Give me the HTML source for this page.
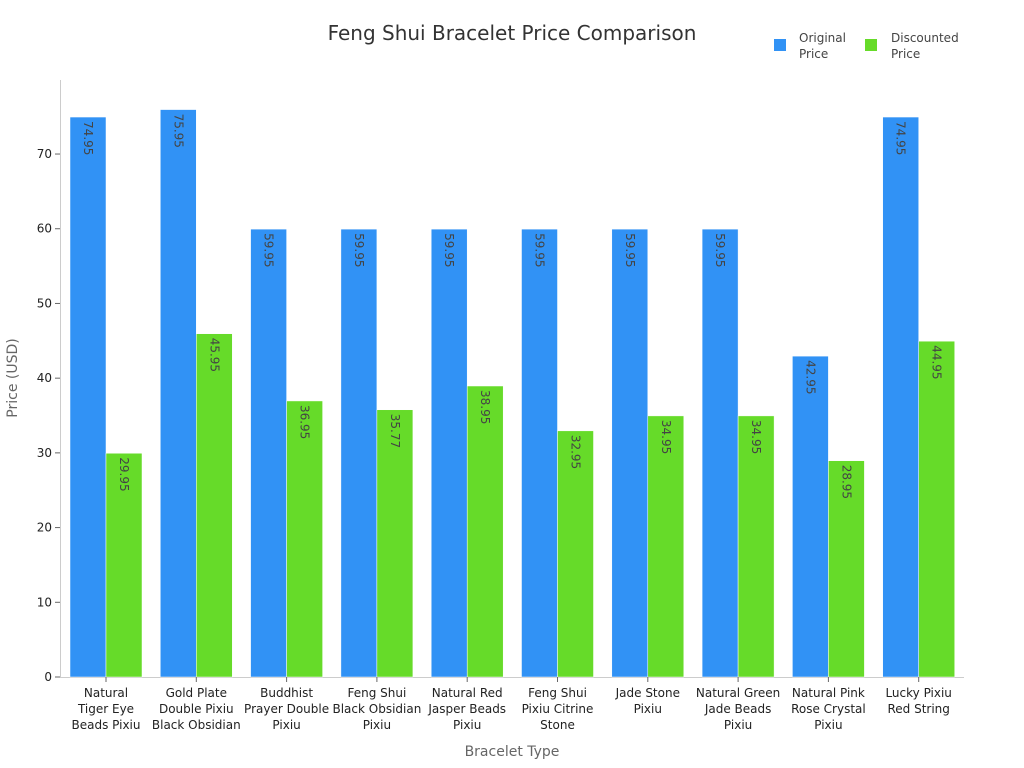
<!DOCTYPE html>
<html><head><meta charset="utf-8"><style>body{margin:0;background:#fff}svg{display:block;font-family:"DejaVu Sans","Liberation Sans",sans-serif}</style></head>
<body>
<svg id="c" width="1024" height="768" xmlns="http://www.w3.org/2000/svg">
<rect width="1024" height="768" fill="#fff"/>
<text x="512" y="40" text-anchor="middle" font-size="20" fill="#333">Feng Shui Bracelet Price Comparison</text>
<rect x="774" y="39" width="12" height="12" fill="#3192f5"/>
<text x="799" y="42" font-size="12" fill="#444">Original</text>
<text x="799" y="58" font-size="12" fill="#444">Price</text>
<rect x="865" y="39" width="12" height="12" fill="#66db29"/>
<text x="891" y="42" font-size="12" fill="#444">Discounted</text>
<text x="891" y="58" font-size="12" fill="#444">Price</text>
<line x1="60.5" y1="80" x2="60.5" y2="677" stroke="#ccc"/>
<line x1="60" y1="677.5" x2="964" y2="677.5" stroke="#ccc"/>
<text transform="translate(17,378) rotate(-90)" text-anchor="middle" font-size="14" fill="#666">Price (USD)</text>
<text x="512" y="756" text-anchor="middle" font-size="14" fill="#666">Bracelet Type</text>
<g id="g"></g>
</svg>
<script>
var o=[74.95,75.95,59.95,59.95,59.95,59.95,59.95,59.95,42.95,74.95];
var d=[29.95,45.95,36.95,35.77,38.95,32.95,34.95,34.95,28.95,44.95];
var L=[["Natural","Tiger Eye","Beads Pixiu"],["Gold Plate","Double Pixiu","Black Obsidian"],["Buddhist","Prayer Double","Pixiu"],["Feng Shui","Black Obsidian","Pixiu"],["Natural Red","Jasper Beads","Pixiu"],["Feng Shui","Pixiu Citrine","Stone"],["Jade Stone","Pixiu"],["Natural Green","Jade Beads","Pixiu"],["Natural Pink","Rose Crystal","Pixiu"],["Lucky Pixiu","Red String"]];
var s="";function y(v){return 677-7.471*v;}
for(var t=0;t<=70;t+=10){var yy=y(t);s+='<line x1="55" x2="60" y1="'+yy+'" y2="'+yy+'" stroke="#666"/><text x="52" y="'+(yy+4)+'" text-anchor="end" font-size="12" fill="#222">'+t+'</text>';}
function bar(x,v,c){var yy=y(v);s+='<rect x="'+x+'" y="'+yy+'" width="36" height="'+(677-yy)+'" fill="'+c+'" stroke="#fff" stroke-width="0.5"/>';
s+='<text transform="translate('+(x+14)+','+(yy+4)+') rotate(90)" font-size="12" fill="#444">'+v.toFixed(2)+'</text>';}
for(var i=0;i<10;i++){var bx=70+90.3*i;bar(bx,o[i],"#3192f5");bar(bx+36,d[i],"#66db29");
s+='<line x1="'+(bx+36)+'" x2="'+(bx+36)+'" y1="677" y2="682" stroke="#666"/>';
for(var j=0;j<L[i].length;j++)s+='<text x="'+(bx+36)+'" y="'+(697+16*j)+'" text-anchor="middle" font-size="12" fill="#222">'+L[i][j]+'</text>';}
document.getElementById("g").innerHTML=s;
</script>
</body></html>
